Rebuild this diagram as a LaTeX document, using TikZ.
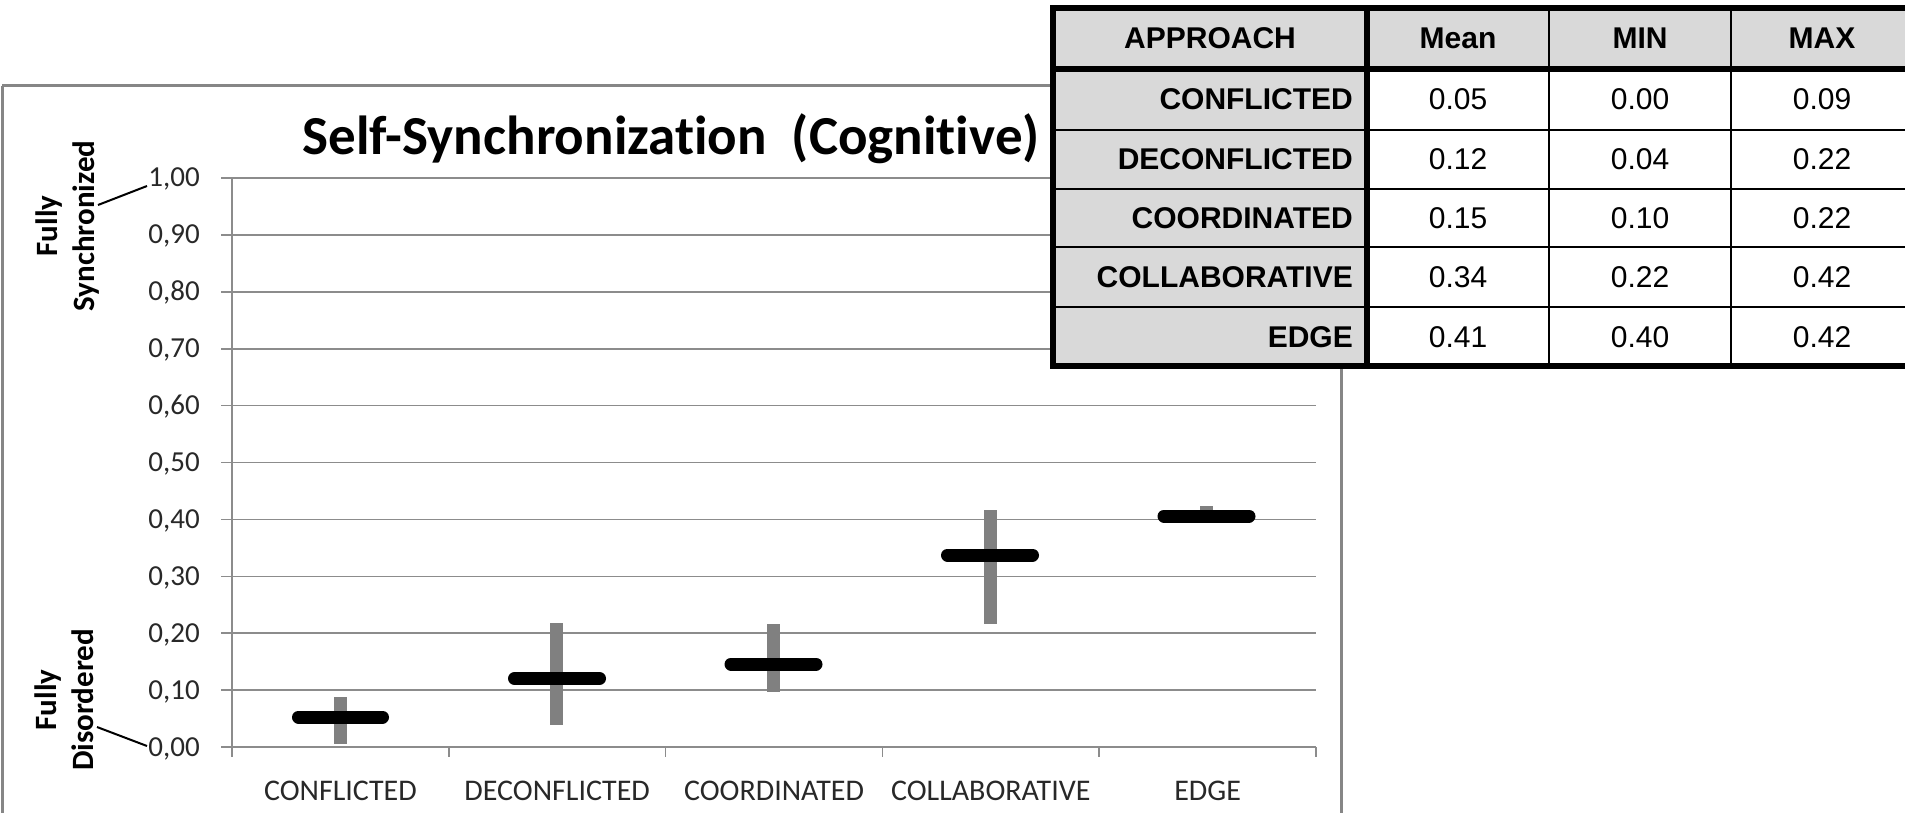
\documentclass[tikz,border=0pt]{standalone}
\usepackage{fontspec}
\setmainfont{Carlito}[Ligatures=NoCommon]
\newfontfamily\arialfont{Liberation Sans}
\definecolor{gridc}{RGB}{140,140,140}
\definecolor{framec}{RGB}{134,134,134}
\definecolor{barc}{RGB}{128,128,128}
\definecolor{cellc}{RGB}{217,217,217}
\definecolor{labc}{RGB}{40,40,40}
\begin{document}
\begin{tikzpicture}[x=1pt,y=-1pt,
  grid/.style={draw=gridc,line width=1.6pt},
  rangebar/.style={draw=barc,line width=13pt},
  meanbar/.style={draw=black,line width=13pt,line cap=round},
  ticklab/.style={anchor=base east,font=\fontsize{29}{31}\selectfont,text=labc,inner sep=0pt},
  catlab/.style={anchor=base,font=\fontsize{30}{32}\selectfont,text=labc,inner sep=0pt},
  sidelab/.style={rotate=90,align=center,font=\bfseries\fontsize{31}{37}\selectfont,inner sep=0pt},
  thbold/.style={anchor=base,font=\arialfont\bfseries\fontsize{30}{32}\selectfont,inner sep=0pt},
  rowlab/.style={anchor=base east,font=\arialfont\bfseries\fontsize{30}{32}\selectfont,inner sep=0pt},
  numlab/.style={anchor=base,font=\arialfont\fontsize{30}{32}\selectfont,inner sep=0pt},
  thin/.style={draw=black,line width=2pt},
  thick/.style={draw=black,line width=5.5pt}]
\useasboundingbox (0,0) rectangle (1905,813);
\begin{scope}
\clip (0,0) rectangle (1905,813);
% chart frame
\draw[draw=framec,line width=3pt] (2,86) -- (1341,86) -- (1341,830);
\draw[draw=framec,line width=3pt] (2,86) -- (2,830);
% title
\node[anchor=base,font=\bfseries\fontsize{55}{60}\selectfont,inner sep=0pt] (title) at (671,155) {Self-Synchronization\ \ (Cognitive)};
% gridlines and tick labels
\foreach \v/\lab [count=\i from 0] in {0/{0,00},1/{0,10},2/{0,20},3/{0,30},4/{0,40},5/{0,50},6/{0,60},7/{0,70},8/{0,80},9/{0,90},10/{1,00}}{
  \pgfmathsetmacro{\yy}{747-56.9*\v}
  \draw[grid] (221,\yy) -- (1316,\yy);
  \node[ticklab] (tick\i) at (200,\yy+9) {\lab};
}
% axes
\draw[grid] (232,178) -- (232,757);
\foreach \k in {1,...,5}{
  \pgfmathsetmacro{\xx}{232+216.8*\k}
  \draw[grid] (\xx,747) -- (\xx,757);
}
% category labels
\node[catlab] (c1) at (340.4,800) {CONFLICTED};
\node[catlab] (c2) at (557.2,800) {DECONFLICTED};
\node[catlab] (c3) at (774,800) {COORDINATED};
\node[catlab] (c4) at (990.8,800) {COLLABORATIVE};
\node[catlab] (c5) at (1207.6,800) {EDGE};
% range bars
\draw[rangebar] (340.5,697) -- (340.5,744);
\draw[rangebar] (556.5,623) -- (556.5,725);
\draw[rangebar] (773,624) -- (773,692);
\draw[rangebar] (990,510) -- (990,624);
\draw[rangebar] (1206.5,506) -- (1206.5,522);
% mean bars
\draw[meanbar] (298.5,717) -- (382.5,717);
\draw[meanbar] (514.5,678.5) -- (599.5,678.5);
\draw[meanbar] (731,664) -- (816,664);
\draw[meanbar] (947.5,555) -- (1032.5,555);
\draw[meanbar] (1164,516) -- (1249,516);
% side labels
\node[sidelab] (sync) at (68,226) {Fully\\Synchronized};
\node[sidelab] (dis) at (64,700) {Fully\\Disordered};
\coordinate (s1) at (98,205);
\coordinate (s2) at (147,186);
\coordinate (d1) at (97,727);
\coordinate (d2) at (147,746);
\draw[line width=2pt] (s1) -- (s2);
\draw[line width=2pt] (d1) -- (d2);
% table
\fill[white] (1053,8) rectangle (1913,366);
\fill[cellc] (1053,8) rectangle (1913,69);
\fill[cellc] (1053,69) rectangle (1367,366);
\foreach \yy in {130,189,247,307}{
  \draw[thin] (1053,\yy) -- (1913,\yy);
}
\draw[thin] (1549,8) -- (1549,366);
\draw[thin] (1731,8) -- (1731,366);
\draw[thick] (1053,69) -- (1913,69);
\draw[thick] (1367,8) -- (1367,366);
\draw[thick] (1053,8) rectangle (1913,366);
\node[thbold] (hA) at (1210,49) {APPROACH};
\node[thbold] (hB) at (1458,49) {Mean};
\node[thbold] (hC) at (1640,49) {MIN};
\node[thbold] (hD) at (1822,49) {MAX};
\foreach \yy/\name/\a/\b/\c [count=\r] in {99.5/CONFLICTED/0.05/0.00/0.09,159.5/DECONFLICTED/0.12/0.04/0.22,218/COORDINATED/0.15/0.10/0.22,277/COLLABORATIVE/0.34/0.22/0.42,336.5/EDGE/0.41/0.40/0.42}{
  \node[rowlab] (r\r) at (1353,\yy+10.5) {\name};
  \node[numlab] (m\r) at (1458,\yy+10.5) {\a};
  \node[numlab] (n\r) at (1640,\yy+10.5) {\b};
  \node[numlab] (x\r) at (1822,\yy+10.5) {\c};
}
\end{scope}
\end{tikzpicture}
\end{document}
